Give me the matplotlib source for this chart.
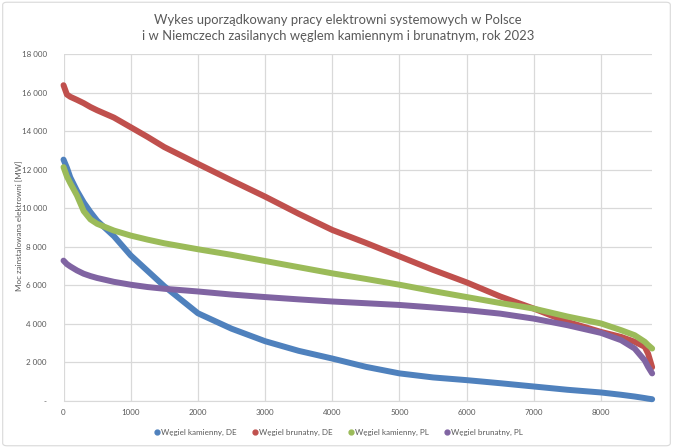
import matplotlib
matplotlib.use("Agg")
import matplotlib.pyplot as plt
from matplotlib.lines import Line2D
from matplotlib.patches import FancyBboxPatch
from matplotlib.ticker import FuncFormatter

plt.rcParams['font.family'] = ['Lato', 'DejaVu Sans']

# hours of the year (sorted duration curve)
hours = [0, 50, 100, 200, 300, 400, 500, 750, 1000, 1250, 1500, 2000, 2500,
         3000, 3500, 4000, 4500, 5000, 5500, 6000, 6500, 7000, 7500, 8000,
         8300, 8500, 8650, 8700, 8760]

kamienny_de = [12520, 12100, 11600, 10900, 10300, 9800, 9350, 8550, 7550, 6750,
               5950, 4550, 3750, 3100, 2600, 2200, 1770, 1430, 1220, 1080, 920,
               750, 580, 440, 320, 230, 150, 120, 90]
brunatny_de = [16380, 15900, 15780, 15620, 15450, 15250, 15080, 14700, 14200,
               13700, 13170, 12300, 11440, 10600, 9710, 8870, 8200, 7500, 6800,
               6150, 5420, 4790, 4100, 3580, 3320, 3070, 2810, 2450, 1750]
kamienny_pl = [12130, 11650, 11300, 10660, 9850, 9420, 9190, 8840, 8580, 8370,
               8180, 7870, 7580, 7260, 6940, 6620, 6330, 6030, 5700, 5390, 5080,
               4790, 4380, 4020, 3670, 3410, 3070, 2900, 2720]
brunatny_pl = [7280, 7100, 6980, 6770, 6600, 6480, 6380, 6180, 6030, 5910, 5820,
               5680, 5520, 5390, 5270, 5160, 5070, 4980, 4850, 4710, 4530, 4270,
               3930, 3530, 3150, 2720, 2100, 1770, 1430]

series = [
    ("Węgiel kamienny, DE", kamienny_de, "#4F81BD"),
    ("Węgiel brunatny, DE", brunatny_de, "#C0504D"),
    ("Węgiel kamienny, PL", kamienny_pl, "#9BBB59"),
    ("Węgiel brunatny, PL", brunatny_pl, "#8064A2"),
]

title = ("Wykes uporządkowany pracy elektrowni systemowych w Polsce\n"
         "i w Niemczech zasilanych węglem kamiennym i brunatnym, rok 2023")
ylabel = "Moc zainstalowana elektrowni [MW]"

TXT = "#595959"
GRID = "#d9d9d9"

fig = plt.figure(figsize=(6.73, 4.48), dpi=100)
fig.patches.append(FancyBboxPatch((0.004, 0.005), 0.992, 0.99,
                                  boxstyle="round,pad=0,rounding_size=0.006",
                                  transform=fig.transFigure, fill=False,
                                  edgecolor=GRID, lw=0.8))
ax = fig.add_axes([0.0944, 0.105, 0.8746, 0.7745])

for name, vals, col in series:
    ax.plot(hours, vals, color=col, lw=4.3, solid_capstyle="round",
            solid_joinstyle="round", clip_on=False, zorder=3)

ax.set_xlim(0, 8760)
ax.set_ylim(0, 18000)
ax.set_xticks(range(0, 9000, 1000))
ax.set_yticks(range(0, 18001, 2000))
ax.yaxis.set_major_formatter(FuncFormatter(
    lambda v, p: "-" if v == 0 else f"{int(v):,}".replace(",", " ")))
ax.grid(True, color=GRID, lw=0.9, zorder=0)
ax.set_axisbelow(True)
for s in ["top", "right", "left"]:
    ax.spines[s].set_visible(False)
ax.spines["bottom"].set_color(GRID)
ax.tick_params(axis="both", length=0, labelsize=5.8, labelcolor=TXT)
ax.tick_params(axis="y", pad=12)
ax.tick_params(axis="x", pad=6)

fig.text(0.502, 0.937, title, ha="center", va="center", fontsize=9.4,
         color=TXT, linespacing=1.4)
fig.text(0.029, 1 - 226 / 448, ylabel, rotation=90, ha="center", va="center",
         fontsize=5.8, color=TXT)

handles = [Line2D([], [], ls="none", marker="o", ms=3.5, color=c) for _, _, c in series]
fig.legend(handles, [n for n, _, _ in series], loc="center",
           bbox_to_anchor=(0.502, 1 - 432 / 448), ncol=4, frameon=False,
           fontsize=5.8, labelcolor=TXT, handletextpad=0.0, columnspacing=1.8,
           handlelength=1.0)

fig.savefig("out.png", dpi=100)
